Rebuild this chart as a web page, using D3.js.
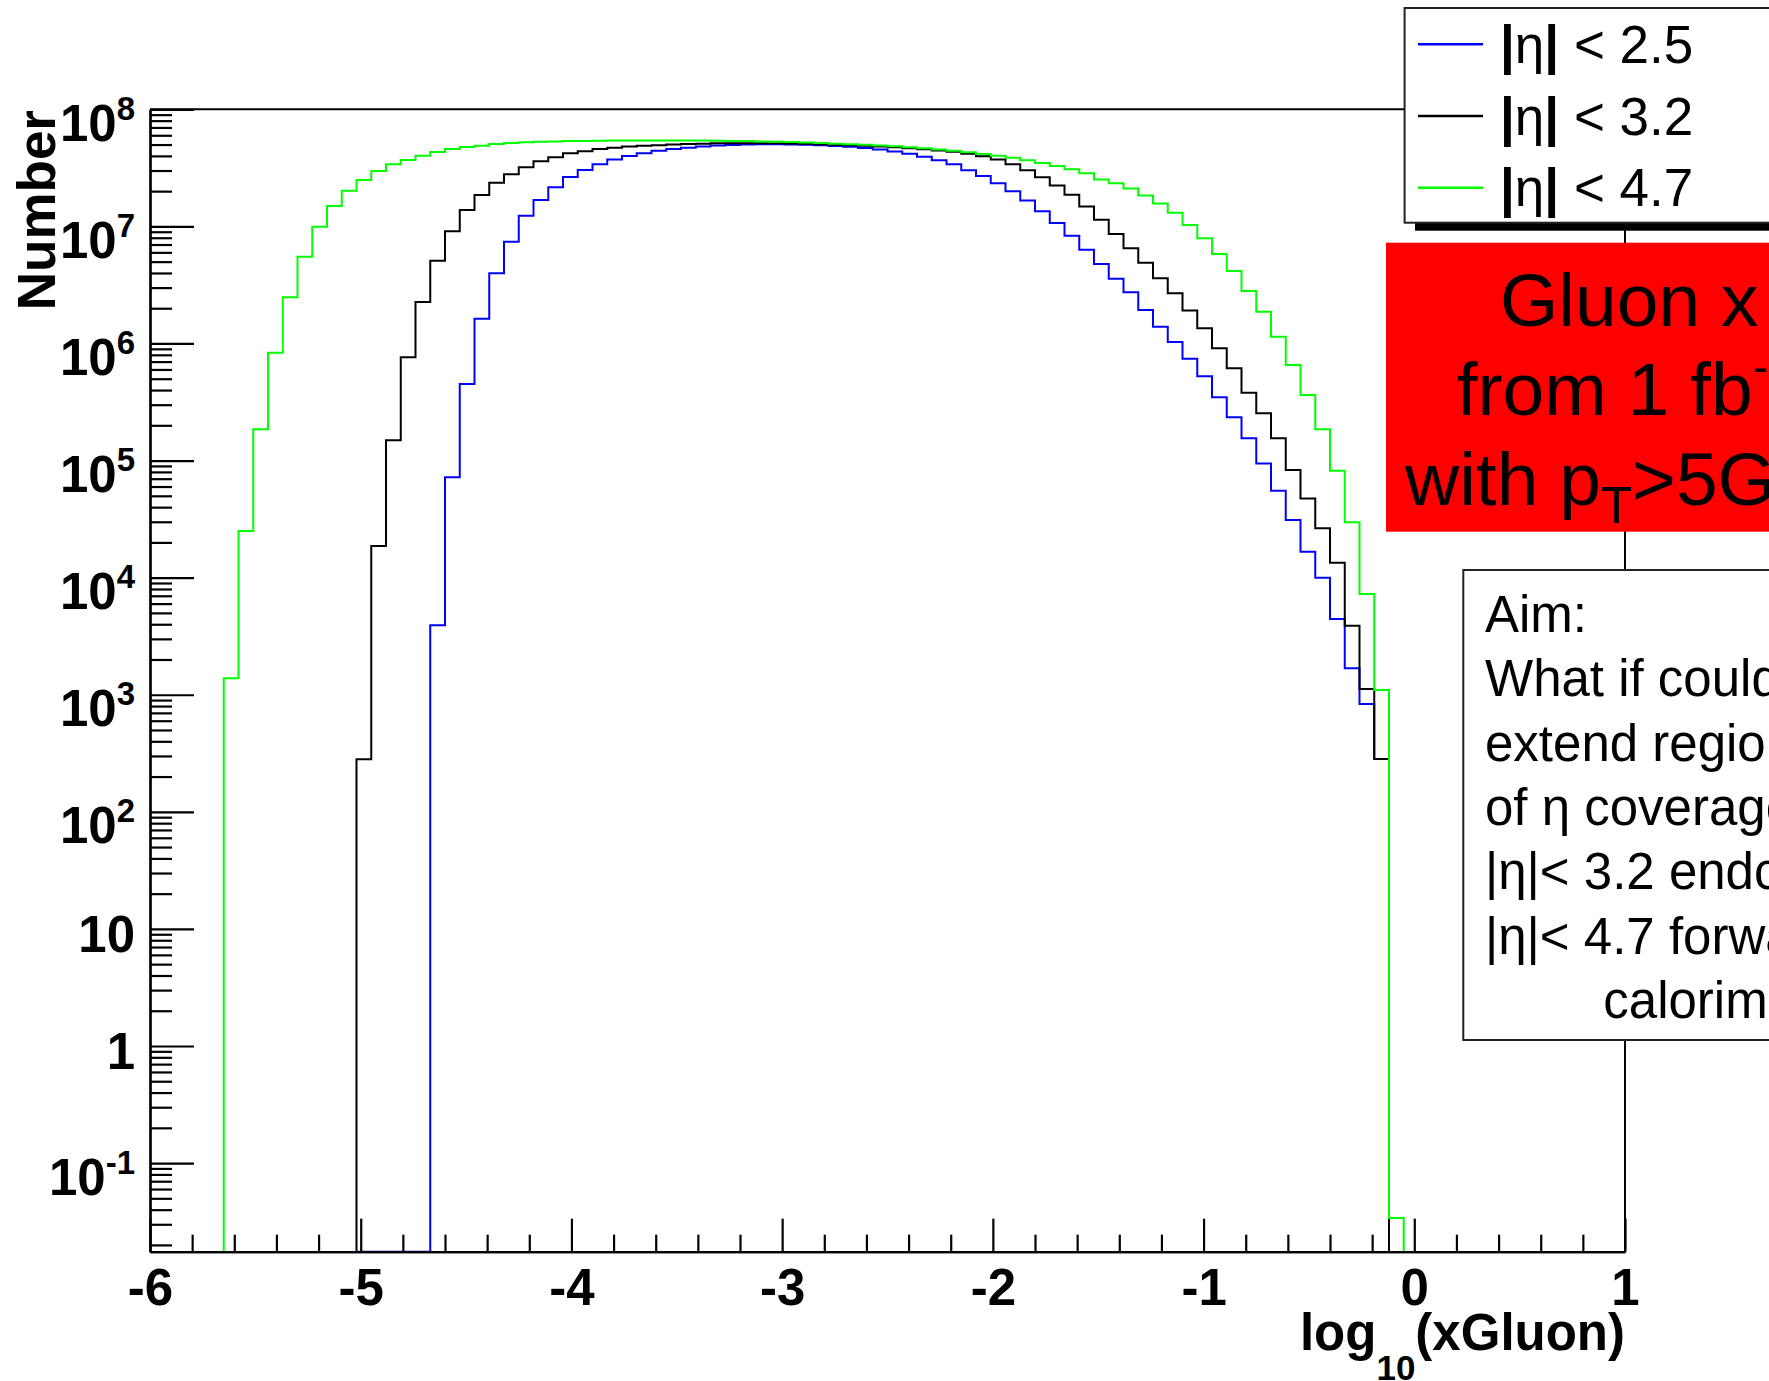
<!DOCTYPE html>
<html>
<head>
<meta charset="utf-8">
<title>log10(xGluon)</title>
<script src="https://d3js.org/d3.v7.min.js"></script>
<style>
  body { margin: 0; background: #fff; }
  svg { display: block; font-family: "Liberation Sans", Arial, Helvetica, sans-serif; }
  .axis path, .axis line { stroke: #000; stroke-width: 2.2px; }
  .ticklab { font-weight: bold; font-size: 51px; fill: #000; }
</style>
</head>
<body>
<script>
// histogram definition: 100 bins of log10(x) between -6 and 1
var xMin = -6, xMax = 1, nBins = 100;

// bin contents, one entry per bin (0 = empty bin, not drawn)
var blueCounts = [
  0, 0, 0, 0, 0, 0, 0, 0, 0, 0,
  0, 0, 0, 0, 0.01, 0.01, 0.01, 0.01, 0.01, 3.92e3,
  7.19e4, 4.51e5, 1.63e6, 3.97e6, 7.40e6, 1.23e7, 1.68e7, 2.16e7, 2.64e7, 3.03e7,
  3.39e7, 3.72e7, 3.99e7, 4.22e7, 4.42e7, 4.57e7, 4.70e7, 4.81e7, 4.90e7, 4.95e7,
  5.00e7, 5.02e7, 5.04e7, 5.01e7, 4.98e7, 4.93e7, 4.86e7, 4.78e7, 4.67e7, 4.53e7,
  4.37e7, 4.17e7, 3.94e7, 3.67e7, 3.39e7, 3.02e7, 2.69e7, 2.34e7, 2.00e7, 1.66e7,
  1.35e7, 1.07e7, 8.32e6, 6.31e6, 4.78e6, 3.57e6, 2.74e6, 1.93e6, 1.39e6, 1.03e6,
  7.41e5, 5.25e5, 3.47e5, 2.34e5, 1.55e5, 9.46e4, 5.52e4, 3.10e4, 1.66e4, 9.98e3,
  4.44e3, 1.68e3, 834, 283, 0, 0, 0, 0, 0, 0,
  0, 0, 0, 0, 0, 0, 0, 0, 0, 0
];
var blackCounts = [
  0, 0, 0, 0, 0, 0, 0, 0, 0, 0,
  0, 0, 0, 0, 281, 1.86e4, 1.49e5, 7.62e5, 2.26e6, 5.09e6,
  9.08e6, 1.38e7, 1.85e7, 2.36e7, 2.79e7, 3.20e7, 3.60e7, 3.89e7, 4.21e7, 4.38e7,
  4.58e7, 4.70e7, 4.80e7, 4.88e7, 4.94e7, 5.00e7, 5.05e7, 5.08e7, 5.12e7, 5.12e7,
  5.12e7, 5.12e7, 5.12e7, 5.11e7, 5.07e7, 5.04e7, 4.99e7, 4.93e7, 4.88e7, 4.81e7,
  4.73e7, 4.65e7, 4.55e7, 4.45e7, 4.33e7, 4.17e7, 3.98e7, 3.72e7, 3.39e7, 3.02e7,
  2.63e7, 2.24e7, 1.86e7, 1.48e7, 1.14e7, 8.61e6, 6.50e6, 4.90e6, 3.61e6, 2.68e6,
  1.91e6, 1.35e6, 9.10e5, 6.14e5, 3.80e5, 2.53e5, 1.55e5, 8.30e4, 4.75e4, 2.64e4,
  1.34e4, 3.88e3, 1.12e3, 283, 0, 0, 0, 0, 0, 0,
  0, 0, 0, 0, 0, 0, 0, 0, 0, 0
];
var greenCounts = [
  0, 0, 0, 0, 0, 1380, 2.50e4, 1.85e5, 8.34e5, 2.48e6,
  5.51e6, 9.93e6, 1.49e7, 2.02e7, 2.49e7, 2.97e7, 3.39e7, 3.69e7, 4.02e7, 4.32e7,
  4.58e7, 4.76e7, 4.89e7, 5.06e7, 5.15e7, 5.22e7, 5.27e7, 5.31e7, 5.35e7, 5.37e7,
  5.40e7, 5.41e7, 5.41e7, 5.41e7, 5.41e7, 5.41e7, 5.41e7, 5.41e7, 5.40e7, 5.37e7,
  5.35e7, 5.32e7, 5.28e7, 5.25e7, 5.20e7, 5.15e7, 5.09e7, 5.04e7, 4.98e7, 4.91e7,
  4.83e7, 4.74e7, 4.65e7, 4.54e7, 4.43e7, 4.30e7, 4.16e7, 4.01e7, 3.85e7, 3.67e7,
  3.48e7, 3.28e7, 3.07e7, 2.84e7, 2.52e7, 2.33e7, 2.11e7, 1.84e7, 1.57e7, 1.31e7,
  1.03e7, 7.91e6, 5.81e6, 4.16e6, 2.81e6, 1.87e6, 1.14e6, 6.55e5, 3.63e5, 1.85e5,
  8.18e4, 2.97e4, 7.24e3, 1.10e3, 0.034, 0, 0, 0, 0, 0,
  0, 0, 0, 0, 0, 0, 0, 0, 0, 0
];

var seriesNames = ["|η| < 2.5", "|η| < 3.2", "|η| < 4.7"];
var seriesColors = ["#0000ff", "#000000", "#00ff00"];
var xTickValues = [-6, -5, -4, -3, -2, -1, 0, 1];
var yTickValues = [1e-1, 1, 10, 1e2, 1e3, 1e4, 1e5, 1e6, 1e7, 1e8];
var yMin = 0.0175, yMax = 1e8;

var boxLines = ["Gluon x distribution", "from 1 fb", "with p"];
var aimLines = ["Aim:", "What if could", "extend region", "of η coverage", "|η|< 3.2 endcap", "|η|< 4.7 forward", "calorimeter"];

var W = 1769, H = 1381;
var plotL = 150, plotR = 1625, plotT = 109.3, plotB = 1251.7;

var svg = d3.select("body").append("svg").attr("width", W).attr("height", H);

var x = d3.scaleLinear().domain([xMin, xMax]).range([plotL, plotR]);
var y = d3.scaleLog().domain([yMin, yMax]).range([plotB, plotT]).clamp(true);

// frame (top and right)
svg.append("path")
    .attr("d", "M" + plotL + "," + plotT + "H" + plotR + "V" + plotB)
    .attr("fill", "none").attr("stroke", "#000").attr("stroke-width", 2);

// histograms
var binW = (xMax - xMin) / nBins;
var line = d3.line().x(function (d) { return x(d[0]); }).y(function (d) { return y(d[1]); }).curve(d3.curveStepAfter);

[blueCounts, blackCounts, greenCounts].forEach(function (counts, s) {
    var runs = [], cur = null;
    counts.forEach(function (v, i) {
        if (v > 0) {
            if (!cur) { cur = []; runs.push(cur); }
            cur.push([xMin + i * binW, v]);
        } else cur = null;
    });
    runs.forEach(function (run) {
        var last = run[run.length - 1];
        var pts = [[run[0][0], 1e-9]].concat(run, [[last[0] + binW, last[1]], [last[0] + binW, 1e-9]]);
        svg.append("path").attr("d", line(pts))
            .attr("fill", "none").attr("stroke", seriesColors[s]).attr("stroke-width", 2);
    });
});

// y axis
var yMinor = [];
for (var e = -2; e < 8; e++) for (var k = 2; k <= 9; k++) {
    var v = k * Math.pow(10, e);
    if (v >= yMin && v <= yMax) yMinor.push(v);
}
svg.append("g").attr("class", "axis").attr("transform", "translate(" + plotL + ",0)")
    .call(d3.axisLeft(y).tickValues(yMinor).tickSize(-22).tickSizeOuter(0).tickFormat(""));
var yG = svg.append("g").attr("class", "axis").attr("transform", "translate(" + plotL + ",0)")
    .call(d3.axisLeft(y).tickValues(yTickValues).tickSize(-44).tickSizeOuter(0).tickPadding(15).tickFormat(""));
yG.attr("font-family", null).attr("font-size", null);
yG.selectAll(".tick text").each(function (d) {
    var t = d3.select(this).attr("dy", null).attr("class", "ticklab");
    var p = Math.round(Math.log10(d));
    if (p === 0 || p === 1) {
        t.attr("y", 23).text(String(d));
    } else {
        t.attr("y", 31);
        t.append("tspan").text("10");
        t.append("tspan").attr("dy", -21).attr("font-size", 33).text(String(p));
    }
});

// x axis
var xMinor = d3.range(0, 36).map(function (i) { return xMin + i / 5; }).filter(function (v) { return Math.abs(v - Math.round(v)) > 1e-6; });
svg.append("g").attr("class", "axis").attr("transform", "translate(0," + plotB + ")")
    .call(d3.axisBottom(x).tickValues(xMinor).tickSize(-17).tickSizeOuter(0).tickFormat(""));
var xG = svg.append("g").attr("class", "axis").attr("transform", "translate(0," + plotB + ")")
    .call(d3.axisBottom(x).tickValues(xTickValues).tickSize(-33).tickSizeOuter(0).tickPadding(17)
        .tickFormat(function (d) { return String(d); }));
xG.attr("font-family", null).attr("font-size", null);
xG.selectAll(".tick text").attr("class", "ticklab");

// axis titles
var xt = svg.append("text").attr("x", plotR).attr("y", 1350).attr("text-anchor", "end")
    .attr("font-weight", "bold").attr("font-size", 51);
xt.append("tspan").text("log");
xt.append("tspan").attr("font-size", 35).attr("dy", 30).text("10");
xt.append("tspan").attr("dy", -30).text("(xGluon)");

svg.append("text").attr("transform", "translate(55,110) rotate(-90)").attr("text-anchor", "end")
    .attr("font-weight", "bold").attr("font-size", 53).text("Number");

// legend
svg.append("rect").attr("x", 1415).attr("y", 16).attr("width", 500).attr("height", 214.7).attr("fill", "#000");
svg.append("rect").attr("x", 1404.6).attr("y", 8).attr("width", 500).attr("height", 214.7)
    .attr("fill", "#fff").attr("stroke", "#222").attr("stroke-width", 2);
seriesNames.forEach(function (name, i) {
    var cy = 44.3 + i * 71.7;
    svg.append("line").attr("x1", 1418).attr("x2", 1483).attr("y1", cy).attr("y2", cy)
        .attr("stroke", seriesColors[i]).attr("stroke-width", 2.5);
    var t = svg.append("text").attr("x", 1500).attr("y", 63.3 + i * 71.2).attr("font-size", 53);
    name.split(/(\|)/).forEach(function (part) {
        if (!part) return;
        t.append("tspan").attr("font-weight", part === "|" ? "bold" : null).text(part);
    });
});

// red box
svg.append("rect").attr("x", 1386).attr("y", 242.7).attr("width", 500).attr("height", 289).attr("fill", "#ff0000");
svg.append("text").attr("x", 1500).attr("y", 326).attr("font-size", 75).text(boxLines[0]);
var r2 = svg.append("text").attr("x", 1456.7).attr("y", 415).attr("font-size", 75);
r2.append("tspan").text(boxLines[1]);
r2.append("tspan").attr("font-size", 45).attr("dy", -33).text("-1");
var r3 = svg.append("text").attr("x", 1405).attr("y", 505).attr("font-size", 75);
r3.append("tspan").text(boxLines[2]);
r3.append("tspan").attr("font-size", 51).attr("dy", 18).text("T");
r3.append("tspan").attr("dy", -18).text(">5GeV");

// aim box
svg.append("rect").attr("x", 1463.3).attr("y", 570).attr("width", 500).attr("height", 470)
    .attr("fill", "#fff").attr("stroke", "#222").attr("stroke-width", 2);
aimLines.forEach(function (s, i) {
    svg.append("text").attr("x", i === 6 ? 1603.3 : 1485).attr("y", 631.7 + i * 64.4)
        .attr("font-size", 51).text(s);
});
</script>
</body>
</html>
